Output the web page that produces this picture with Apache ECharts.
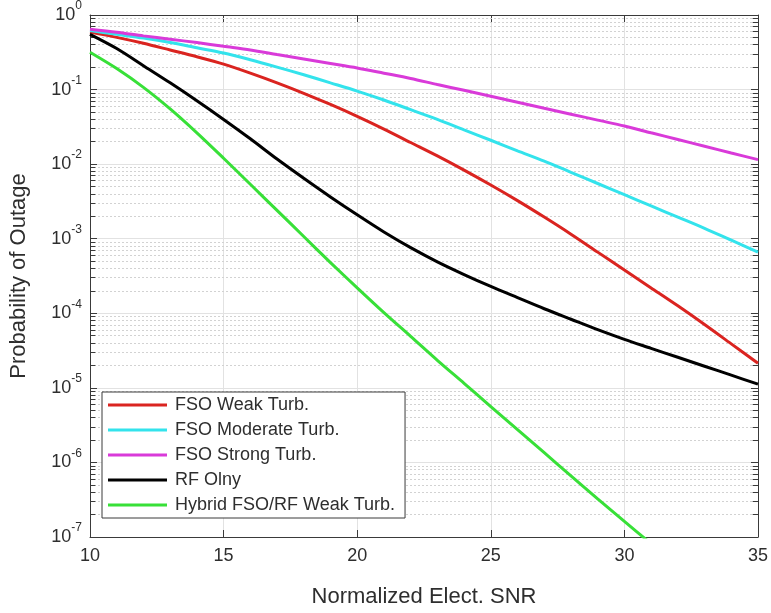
<!DOCTYPE html>
<html>
<head>
<meta charset="utf-8">
<script src="https://cdn.jsdelivr.net/npm/echarts@6/dist/echarts.min.js"></script>
<style>
  html, body { margin: 0; padding: 0; background: #ffffff; }
  #chart { width: 771px; height: 613px; }
</style>
</head>
<body>
<div id="chart"></div>
<script>
// Normalized electrical SNR (x axis samples)
const snr = [10, 11, 12, 13, 14, 15, 16, 17, 18, 19, 20, 21, 22, 23, 24, 25, 26, 27, 28, 29, 30, 31, 32, 33, 34, 35];

// Outage probability for each link type
const fsoWeak = [0.589, 0.501, 0.417, 0.339, 0.275, 0.219, 0.166, 0.123, 0.0891, 0.0631, 0.0437, 0.0295, 0.0195, 0.0129, 0.00832, 0.00525, 0.00324, 0.00195, 0.00115, 6.61e-4, 3.80e-4, 2.19e-4, 1.26e-4, 7.08e-5, 3.89e-5, 2.14e-5];
const fsoModerate = [0.617, 0.550, 0.490, 0.427, 0.363, 0.309, 0.251, 0.200, 0.158, 0.123, 0.0955, 0.0724, 0.0537, 0.0398, 0.0288, 0.0209, 0.0151, 0.0110, 0.00776, 0.00550, 0.00389, 0.00275, 0.00195, 0.00138, 9.55e-4, 6.61e-4];
const fsoStrong = [0.646, 0.589, 0.525, 0.473, 0.427, 0.380, 0.339, 0.295, 0.257, 0.224, 0.195, 0.166, 0.141, 0.117, 0.0977, 0.0813, 0.0676, 0.0562, 0.0468, 0.0389, 0.0324, 0.0263, 0.0214, 0.0174, 0.0141, 0.0115];
const rfOnly = [0.550, 0.355, 0.209, 0.123, 0.0708, 0.0398, 0.0219, 0.0117, 0.00646, 0.00363, 0.00209, 0.00123, 7.59e-4, 4.90e-4, 3.31e-4, 2.29e-4, 1.62e-4, 1.15e-4, 8.32e-5, 6.03e-5, 4.47e-5, 3.39e-5, 2.57e-5, 1.95e-5, 1.48e-5, 1.12e-5];
const hybridWeak = [0.316, 0.191, 0.107, 0.0550, 0.0263, 0.0120, 0.00537, 0.00240, 0.00107, 4.79e-4, 2.19e-4, 1.02e-4, 4.90e-5, 2.34e-5, 1.15e-5, 5.62e-6, 2.75e-6, 1.35e-6, 6.61e-7, 3.24e-7, 1.62e-7, 8.13e-8];

const seriesNames = ['FSO Weak Turb.', 'FSO Moderate Turb.', 'FSO Strong Turb.', 'RF Olny', 'Hybrid FSO/RF Weak Turb.'];
const seriesValues = [fsoWeak, fsoModerate, fsoStrong, rfOnly, hybridWeak];
const seriesColors = ['#da2420', '#33e3ec', '#d93ad9', '#000000', '#38e038'];

const X_MIN = 10, X_MAX = 35, Y_MIN = 1e-7, Y_MAX = 1;
const FONT = '"Liberation Sans", Arial, Helvetica, sans-serif';
const TEXT = '#2e2e2e';
const AXIS = '#3a3a3a';

// minor decade positions (2..9 x 10^k) for the dotted grid and short ticks
const minorValues = [];
for (let e = -7; e < 0; e++) {
  for (let m = 2; m <= 9; m++) minorValues.push(m * Math.pow(10, e));
}
const TICK_SPAN = 0.2; // minor tick length in x-axis units

const lineSeries = seriesNames.map((name, i) => ({
  name: name,
  type: 'line',
  data: seriesValues[i].map((v, j) => [snr[j], v]),
  symbol: 'none',
  showSymbol: false,
  smooth: 0.3,
  clip: true,
  z: 3,
  lineStyle: { color: seriesColors[i], width: 3 },
  itemStyle: { color: seriesColors[i] },
  emphasis: { disabled: true }
}));

const minorGridSeries = {
  name: 'minorGrid',
  type: 'line',
  data: [],
  z: 1,
  silent: true,
  markLine: {
    z: 1,
    silent: true,
    precision: 12,
    symbol: ['none', 'none'],
    label: { show: false },
    animation: false,
    lineStyle: { type: [2, 2], color: '#d2d2d2', width: 1 },
    data: minorValues.map(v => ({ yAxis: v }))
  }
};

const minorTickData = [];
minorValues.forEach(v => {
  minorTickData.push([{ coord: [X_MIN, v] }, { coord: [X_MIN + TICK_SPAN, v] }]);
  minorTickData.push([{ coord: [X_MAX - TICK_SPAN, v] }, { coord: [X_MAX, v] }]);
});
const minorTickSeries = {
  name: 'minorTicks',
  type: 'line',
  data: [],
  z: 2,
  silent: true,
  markLine: {
    z: 2,
    silent: true,
    precision: 12,
    symbol: ['none', 'none'],
    label: { show: false },
    animation: false,
    lineStyle: { type: 'solid', color: AXIS, width: 1 },
    data: minorTickData
  }
};

const chart = echarts.init(document.getElementById('chart'), null, { renderer: 'canvas' });

const baseX = {
  type: 'value', min: X_MIN, max: X_MAX, interval: 5,
  axisLine: { show: true, onZero: false, lineStyle: { color: AXIS, width: 1 } },
  axisTick: { show: true, inside: true, length: 7, lineStyle: { color: AXIS, width: 1 } }
};
const baseY = {
  type: 'log', logBase: 10, min: Y_MIN, max: Y_MAX, interval: 1,
  axisLine: { show: true, onZero: false, lineStyle: { color: AXIS, width: 1 } },
  axisTick: { show: true, inside: true, length: 7, lineStyle: { color: AXIS, width: 1 } }
};

chart.setOption({
  animation: false,
  backgroundColor: '#ffffff',
  grid: { left: 88, right: 13, top: 13, bottom: 70, containLabel: false },
  xAxis: [
    Object.assign({}, baseX, {
      position: 'bottom',
      axisLabel: { color: TEXT, fontSize: 18, fontFamily: FONT, margin: 10 },
      splitLine: { show: true, lineStyle: { color: '#e2e2e2', width: 1 } },
      name: 'Normalized Elect. SNR',
      nameLocation: 'middle',
      nameGap: 49,
      nameTextStyle: { color: TEXT, fontSize: 22, fontFamily: FONT }
    }),
    Object.assign({}, baseX, {
      position: 'top',
      axisLabel: { show: false },
      splitLine: { show: false }
    })
  ],
  yAxis: [
    Object.assign({}, baseY, {
      position: 'left',
      axisLabel: {
        margin: 8,
        formatter: function (v) {
          const e = Math.round(Math.log10(v));
          return '{b|10}{e|' + e + '}';
        },
        rich: {
          b: { fontSize: 18, lineHeight: 30, color: TEXT, fontFamily: FONT },
          e: { fontSize: 12, lineHeight: 14, color: TEXT, fontFamily: FONT, verticalAlign: 'top' }
        }
      },
      splitLine: { show: true, lineStyle: { color: '#e2e2e2', width: 1 } },
      name: 'Probability of Outage',
      nameLocation: 'middle',
      nameGap: 60,
      nameTextStyle: { color: TEXT, fontSize: 22, fontFamily: FONT }
    }),
    Object.assign({}, baseY, {
      position: 'right',
      axisLabel: { show: false },
      splitLine: { show: false }
    })
  ],
  legend: {
    z: 10,
    data: seriesNames,
    orient: 'vertical',
    left: 102,
    top: 392,
    icon: 'rect',
    itemWidth: 59,
    itemHeight: 3,
    itemGap: 7,
    padding: [4, 10, 4, 6],
    backgroundColor: '#ffffff',
    borderColor: AXIS,
    borderWidth: 1,
    borderRadius: 0,
    selectedMode: false,
    textStyle: { color: TEXT, fontSize: 18, fontFamily: FONT, padding: [0, 0, 0, 3] }
  },
  series: [minorGridSeries, minorTickSeries].concat(lineSeries)
});
</script>
</body>
</html>
